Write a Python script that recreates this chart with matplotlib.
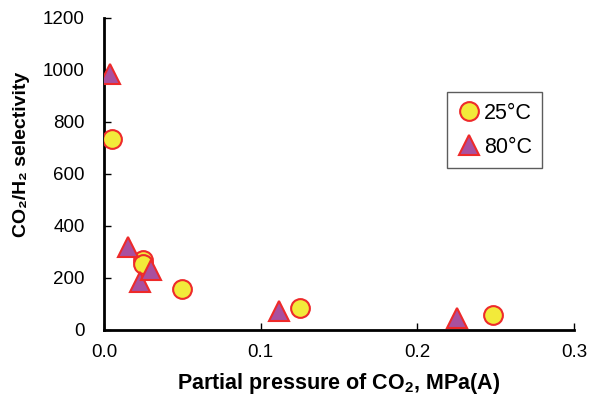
import matplotlib
matplotlib.use("Agg")
import matplotlib.pyplot as plt

# 25 C data (circles)
p25 = [0.005, 0.025, 0.025, 0.050, 0.125, 0.248]
sel25 = [735, 270, 255, 158, 85, 58]

# 80 C data (triangles)
p80 = [0.004, 0.015, 0.023, 0.030, 0.112, 0.225]
sel80 = [985, 318, 185, 230, 72, 45]

xticks = [0.0, 0.1, 0.2, 0.3]
xticklabels = ['0.0', '0.1', '0.2', '0.3']
yticks = [0, 200, 400, 600, 800, 1000, 1200]

plt.rcParams['font.family'] = 'Liberation Sans'
plt.rcParams['mathtext.fontset'] = 'custom'
plt.rcParams['mathtext.bf'] = 'Liberation Sans:bold'
plt.rcParams['mathtext.rm'] = 'Liberation Sans'

fig = plt.figure(figsize=(5.9, 3.98), dpi=100)
ax = fig.add_axes([0.1763, 0.1709, 0.7966, 0.7839])

ax.plot(p25, sel25, 'o', ms=13.5, mfc='#f2ea3a', mec='#ee2a2a', mew=1.5,
        label='25\u00b0C', zorder=3)
ax.plot(p80, sel80, '^', ms=14.5, mfc='#a9509f', mec='#ee2a2a', mew=1.5,
        label='80\u00b0C', zorder=3)

ax.set_xlim(0, 0.3)
ax.set_ylim(0, 1200)
ax.set_xticks(xticks)
ax.set_xticklabels(xticklabels)
ax.set_yticks(yticks)
ax.tick_params(direction='in', labelsize=13.5, length=5, width=1)
ax.tick_params(axis='y', pad=14)
ax.tick_params(axis='x', pad=10)
ax.spines['top'].set_visible(False)
ax.spines['right'].set_visible(False)
ax.spines['left'].set_linewidth(2)
ax.spines['bottom'].set_linewidth(2)

ax.set_xlabel('Partial pressure of CO$_\\mathbf{2}$, MPa(A)', fontsize=15.5,
              fontweight='bold', labelpad=7)
ax.set_ylabel('CO\u2082/H\u2082 selectivity', fontsize=14, fontweight='bold')
ax.yaxis.set_label_coords(-0.157, 0.564)

leg = ax.legend(loc='upper left', bbox_to_anchor=(0.730, 0.763),
                borderaxespad=0, frameon=True, fancybox=False,
                edgecolor='#333333', handletextpad=0.2, labelspacing=0.6,
                borderpad=0.5, handlelength=1.0, fontsize=15.5)
leg.get_frame().set_linewidth(1.0)

fig.savefig('out.png', dpi=100)
